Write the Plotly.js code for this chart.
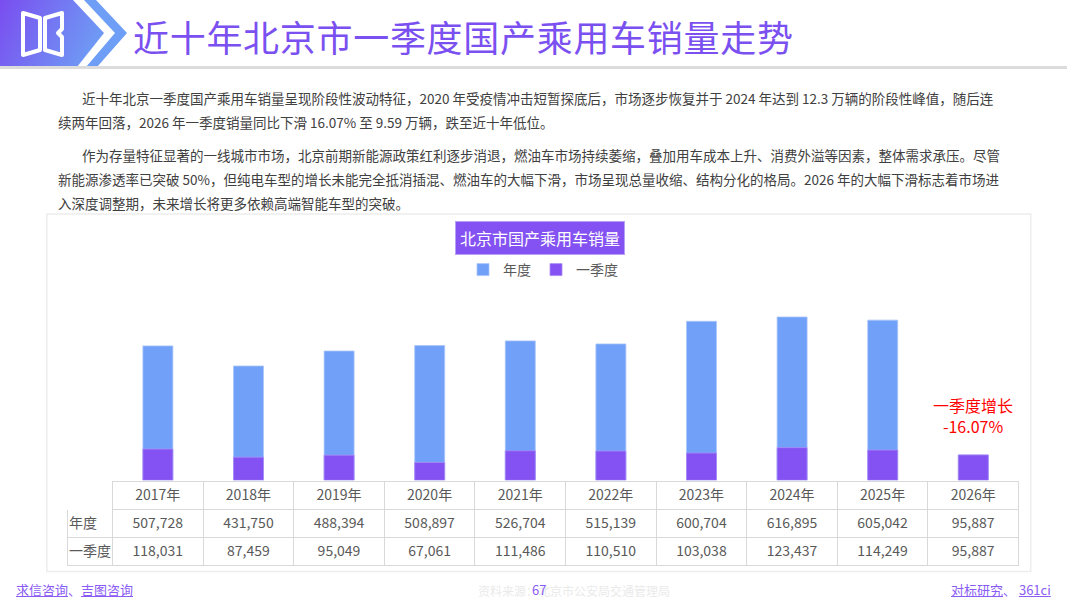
<!DOCTYPE html>
<html>
<head>
<meta charset="utf-8">
<script src="https://cdn.plot.ly/plotly-3.0.1.min.js"></script>
<style>
  html, body { margin:0; padding:0; background:#fff; }
  body { width:1080px; height:607px; position:relative; overflow:hidden; font-family:"Noto Sans CJK SC","Noto Sans",sans-serif; }
  #chart { position:absolute; left:0; top:0; width:1080px; height:607px; }
  .abs { position:absolute; white-space:nowrap; }
  #title { left:133px; top:12px; font-size:36px; line-height:48px; color:#7B50F0; letter-spacing:0.7px; }
  #rule { left:0; top:66px; width:1067px; height:3px; background:#DCDCDC; }
  .ln { position:absolute; left:58px; width:928px; height:24px; line-height:24px; font-size:13.5px; color:#404040; white-space:nowrap; text-align:justify; text-align-last:justify; }
  .ln.ind { left:82px; width:904px; }
  .ln.last { text-align-last:left; }
  .foot { font-size:13px; color:#8A5CF5; top:580px; line-height:20px; }
  .foot u { text-decoration:underline; }
</style>
</head>
<body>
<div id="chart"></div>

<svg class="abs" style="left:0;top:0" width="140" height="68" viewBox="0 0 140 68">
  <defs>
    <linearGradient id="g1" x1="0" y1="0" x2="1" y2="0.3">
      <stop offset="0" stop-color="#7A4DF0"/>
      <stop offset="1" stop-color="#6F98F4"/>
    </linearGradient>
  </defs>
  <polygon points="0,0 73,0 104,33 77,67 0,67" fill="url(#g1)"/>
  <polygon points="84,0 96,0 127,33 97,67 86,67 115,33" fill="#6E9EF5"/>
  <path d="M23,13 L40,18 L40,50 L23,55 Z" fill="none" stroke="#fff" stroke-width="4" stroke-linejoin="round"/>
  <path d="M45,18 L62,13 L62,29 L58,33 L62,37 L62,55 L45,50 Z" fill="none" stroke="#fff" stroke-width="4" stroke-linejoin="round"/>
</svg>
<div id="title" class="abs">近十年北京市一季度国产乘用车销量走势</div>
<div id="rule" class="abs"></div>

<div class="ln ind" style="top:86px">近十年北京一季度国产乘用车销量呈现阶段性波动特征，2020 年受疫情冲击短暂探底后，市场逐步恢复并于 2024 年达到 12.3 万辆的阶段性峰值，随后连</div>
<div class="ln last" style="top:110px">续两年回落，2026 年一季度销量同比下滑 16.07% 至 9.59 万辆，跌至近十年低位。</div>
<div class="ln ind" style="top:143px">作为存量特征显著的一线城市市场，北京前期新能源政策红利逐步消退，燃油车市场持续萎缩，叠加用车成本上升、消费外溢等因素，整体需求承压。尽管</div>
<div class="ln" style="top:167px">新能源渗透率已突破 50%，但纯电车型的增长未能完全抵消插混、燃油车的大幅下滑，市场呈现总量收缩、结构分化的格局。2026 年的大幅下滑标志着市场进</div>
<div class="ln last" style="top:191px">入深度调整期，未来增长将更多依赖高端智能车型的突破。</div>

<div class="abs foot" style="left:16px"><u>求信咨询</u>、<u>吉图咨询</u></div>
<div class="abs" style="left:478px;top:581px;font-size:12px;line-height:20px;color:#EAEAEA">资料来源：北京市公安局交通管理局</div>
<div class="abs foot" style="left:532px">67</div>
<div class="abs foot" style="left:951px"><u>对标研究</u>、 <u>361ci</u></div>

<script>
// ---- data ----
const years = ['2017年','2018年','2019年','2020年','2021年','2022年','2023年','2024年','2025年','2026年'];
const annual = [507728, 431750, 488394, 508897, 526704, 515139, 600704, 616895, 605042, 95887];
const q1 = [118031, 87459, 95049, 67061, 111486, 110510, 103038, 123437, 114249, 95887];
const rowLabels = ['年度', '一季度'];
const chartTitle = '北京市国产乘用车销量';
const noteText = '一季度增长<br>-16.07%';

// ---- layout helpers (pixel -> paper) ----
const W = 1080, H = 607;
const px = v => v / W;
const py = v => 1 - v / H;
const FONT = '"Noto Sans CJK SC", "Noto Sans", sans-serif';
const fmt = n => n.toLocaleString('en-US');
// pad labels with ideographic spaces so centred text starts at the column's left edge
const padLabel = s => s + '\u3000'.repeat(Math.max(0, 3 - s.length));

const xDom = [px(112.6), px(1018.6)];

const traces = [
  {
    type: 'bar', name: '年度', x: years, y: annual,
    marker: { color: '#70A0F7', line: { color: '#A9C5FA', width: 0.8 } },
    hoverinfo: 'skip'
  },
  {
    type: 'bar', name: '一季度', x: years, y: q1,
    marker: { color: '#8452F2', line: { color: '#AB8DF6', width: 0.8 } },
    hoverinfo: 'skip'
  },
  {
    type: 'table',
    domain: { x: [px(67.5), px(1018.6)], y: [py(567), py(481.4)] },
    columnwidth: [45].concat(years.map(() => 90.6)),
    header: {
      values: [''].concat(years),
      align: 'center',
      height: 28,
      fill: { color: '#ffffff' },
      line: { color: ['#ffffff'].concat(years.map(() => '#D9D9D9')), width: 1 },
      font: { family: FONT, size: 14, color: '#595959' }
    },
    cells: {
      values: [rowLabels.map(padLabel)].concat(years.map((y, i) => [fmt(annual[i]), fmt(q1[i])])),
      align: 'center',
      height: 28,
      fill: { color: '#ffffff' },
      line: { color: '#D9D9D9', width: 1 },
      font: { family: FONT, size: 14, color: '#595959' }
    }
  }
];

const layout = {
  width: W, height: H,
  margin: { l: 0, r: 0, t: 0, b: 0, pad: 0 },
  paper_bgcolor: 'rgba(0,0,0,0)',
  plot_bgcolor: 'rgba(0,0,0,0)',
  barmode: 'overlay',
  bargap: 0.669,
  font: { family: FONT, color: '#595959' },
  xaxis: {
    domain: xDom, type: 'category',
    showticklabels: false, showgrid: false, zeroline: false, showline: false, ticks: ''
  },
  yaxis: {
    domain: [py(480.3), py(300.3)], range: [0, 680000],
    showticklabels: false, showgrid: false, zeroline: false, showline: false, ticks: ''
  },
  showlegend: true,
  legend: {
    orientation: 'h', x: px(543), xanchor: 'center', y: py(270), yanchor: 'middle',
    font: { family: FONT, size: 14, color: '#595959' },
    itemwidth: 30, traceorder: 'normal', bgcolor: 'rgba(0,0,0,0)'
  },
  shapes: [
    {
      type: 'rect', xref: 'paper', yref: 'paper',
      x0: px(46.8), x1: px(1030.7), y0: py(571.6), y1: py(214),
      line: { color: '#EDEDED', width: 1.5 }, fillcolor: 'rgba(0,0,0,0)', layer: 'below'
    }
  ],
  annotations: [
    {
      xref: 'paper', yref: 'paper', x: px(539.5), y: py(237.5),
      xanchor: 'center', yanchor: 'middle', showarrow: false,
      text: chartTitle, bgcolor: '#8452F2', bordercolor: '#B8A0F7', borderwidth: 1, borderpad: 4,
      font: { family: FONT, size: 16, color: '#ffffff' }
    },
    {
      xref: 'x', yref: 'paper', x: years[9], y: py(415),
      xanchor: 'center', yanchor: 'middle', showarrow: false,
      text: noteText, align: 'center',
      font: { family: FONT, size: 16, color: '#FF0000' }
    }
  ]
};

Plotly.newPlot('chart', traces, layout, { displayModeBar: false, staticPlot: true });
</script>
</body>
</html>
